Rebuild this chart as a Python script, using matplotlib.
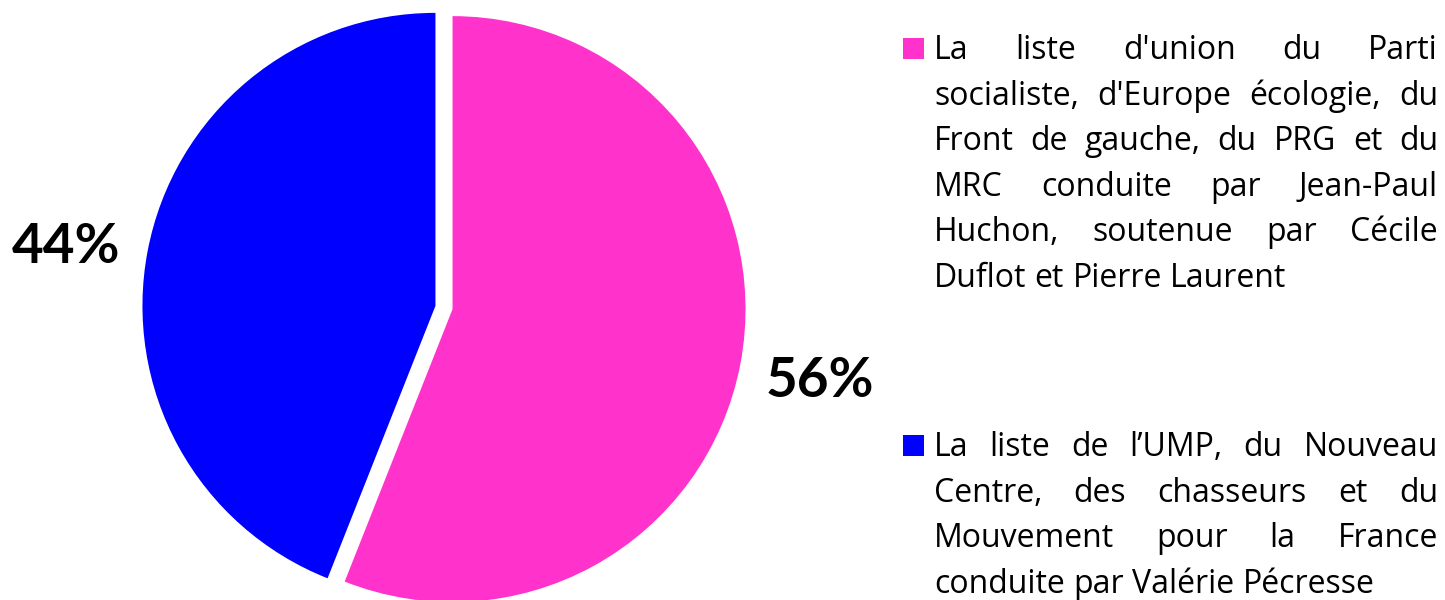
import matplotlib
matplotlib.use('Agg')
import matplotlib.pyplot as plt
from matplotlib.patches import Rectangle

plt.rcParams['font.family'] = ['Lato', 'DejaVu Sans']

# données
shares = [56, 44]
colors = ['#FF33CC', '#0000FF']
labels = [
    "La liste d'union du Parti\nsocialiste, d'Europe écologie, du\nFront de gauche, du PRG et du\n"
    "MRC conduite par Jean-Paul\nHuchon, soutenue par Cécile\nDuflot et Pierre Laurent",
    "La liste de l’UMP, du Nouveau\nCentre, des chasseurs et du\nMouvement pour la France\n"
    "conduite par Valérie Pécresse",
]

W, H = 1445, 600
fig = plt.figure(figsize=(W / 100, H / 100), dpi=100)
ax = fig.add_axes([0, 0, 1, 1])

# explode est en unités de données (pixels ici)
ax.pie(shares, colors=colors, startangle=90, counterclock=False,
       center=(444, H - 307.5), radius=293, explode=[8.7, 8.7], frame=True)
ax.set_xlim(0, W)
ax.set_ylim(0, H)
ax.axis('off')

# pourcentages
for v, (x, y) in zip(shares, [(820, 397), (66, 263)]):
    ax.text(x, H - y, '%d%%' % v, fontsize=39.5, fontweight='bold',
            ha='center', va='baseline')

# légende à texte justifié
fs = 23
fam = ['Open Sans', 'DejaVu Sans']
renderer = fig.canvas.get_renderer()


def text_width(s):
    t = ax.text(0, 0, s, fontsize=fs, family=fam)
    w = t.get_window_extent(renderer).width
    t.remove()
    return w


space = text_width('x x') - text_width('xx')
left, right = 934, 1438
line_h = 45.6

for label, color, base in zip(labels, colors, [59, 456]):
    ax.add_patch(Rectangle((903, H - base), 21, 21, color=color, lw=0))
    lines = label.split('\n')
    for i, line in enumerate(lines):
        y = H - (base + i * line_h)
        words = line.split(' ')
        widths = [text_width(w) for w in words]
        if i < len(lines) - 1 and len(words) > 1:
            gap = (right - left - sum(widths)) / (len(words) - 1)
        else:
            gap = space
        x = left
        for w, wd in zip(words, widths):
            ax.text(x, y, w, fontsize=fs, family=fam, va='baseline', ha='left')
            x += wd + gap

fig.savefig('out.png', dpi=100)
